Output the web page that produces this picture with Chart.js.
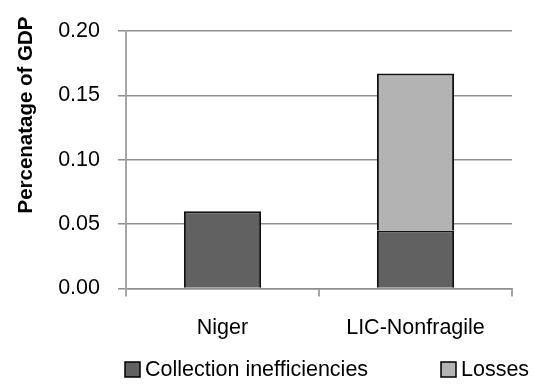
<!DOCTYPE html>
<html>
<head>
<meta charset="utf-8">
<script src="https://cdn.jsdelivr.net/npm/chart.js@4"></script>
<style>
  html, body { margin: 0; padding: 0; background: #fff; }
  #wrap { width: 533px; height: 384px; position: relative; }
</style>
</head>
<body>
<div id="wrap"><canvas id="myChart" width="533" height="384"></canvas></div>
<script>
const categories = ['Niger', 'LIC-Nonfragile']
const collection = [0.06, 0.045]
const losses = [null, 0.122]
const yTicks = [0, 0.05, 0.10, 0.15, 0.20]
const seriesNames = ['Collection inefficiencies', 'Losses']
const seriesColors = ['#616161', '#b3b3b3']
const yTitle = 'Percenatage of GDP'

const fontFamily = '"Liberation Sans", Arial, sans-serif'
const gridColor = '#8f8f8f'
const axisColor = '#a6a6a6'

// legend and axis title drawn by hand so they sit where the original has them
const extrasPlugin = {
    id: 'extras',
    afterDraw(chart) {
        const ctx = chart.ctx
        const items = [
            { x: 125, label: seriesNames[0], color: seriesColors[0] },
            { x: 441, label: seriesNames[1], color: seriesColors[1] }
        ]
        const yMid = 369.5
        ctx.save()
        ctx.font = '21.5px ' + fontFamily
        ctx.textBaseline = 'middle'
        items.forEach(item => {
            ctx.fillStyle = item.color
            ctx.fillRect(item.x, yMid - 7.5, 15, 15)
            ctx.strokeStyle = '#000'
            ctx.lineWidth = 1.5
            ctx.strokeRect(item.x, yMid - 7.5, 15, 15)
            ctx.fillStyle = '#000'
            ctx.fillText(item.label, item.x + 20, yMid + 1)
        })

        ctx.translate(26, 115)
        ctx.rotate(-Math.PI / 2)
        ctx.font = 'bold 20.5px ' + fontFamily
        ctx.textAlign = 'center'
        ctx.fillText(yTitle, 0, 0)
        ctx.restore()
    }
}

const config = {
    type: 'bar',
    data: {
        labels: categories,
        datasets: [
            {
                label: seriesNames[0],
                data: collection,
                backgroundColor: seriesColors[0],
                borderColor: '#111',
                borderWidth: 2,
                barPercentage: 0.4,
                categoryPercentage: 1
            },
            {
                label: seriesNames[1],
                data: losses,
                backgroundColor: seriesColors[1],
                borderColor: '#111',
                borderWidth: 2,
                barPercentage: 0.4,
                categoryPercentage: 1
            }
        ]
    },
    options: {
        responsive: false,
        animation: false,
        layout: { padding: { left: 10, right: 21, top: 19.5, bottom: 45 } },
        plugins: {
            legend: { display: false },
            tooltip: { enabled: false }
        },
        scales: {
            x: {
                stacked: true,
                offset: true,
                grid: {
                    offset: true,
                    drawOnChartArea: false,
                    drawTicks: true,
                    tickLength: 8,
                    color: axisColor,
                    lineWidth: 2
                },
                border: { color: gridColor, width: 1.5 },
                ticks: {
                    color: '#000',
                    padding: 19,
                    font: { family: fontFamily, size: 21.5 }
                },
                afterFit: scale => { scale.height = 384 - 45 - 288.5 }
            },
            y: {
                stacked: true,
                min: 0,
                max: 0.2,
                afterBuildTicks: scale => { scale.ticks = yTicks.map(v => ({ value: v })) },
                grid: {
                    color: gridColor,
                    lineWidth: 1.5,
                    tickLength: 8
                },
                border: { color: axisColor, width: 2 },
                ticks: {
                    color: '#000',
                    padding: 18,
                    font: { family: fontFamily, size: 21.5 },
                    callback: v => Number(v).toFixed(2)
                },
                afterFit: scale => { scale.width = 126 - 10 }
            }
        }
    },
    plugins: [extrasPlugin]
}

new Chart(document.getElementById('myChart'), config)
</script>
</body>
</html>
